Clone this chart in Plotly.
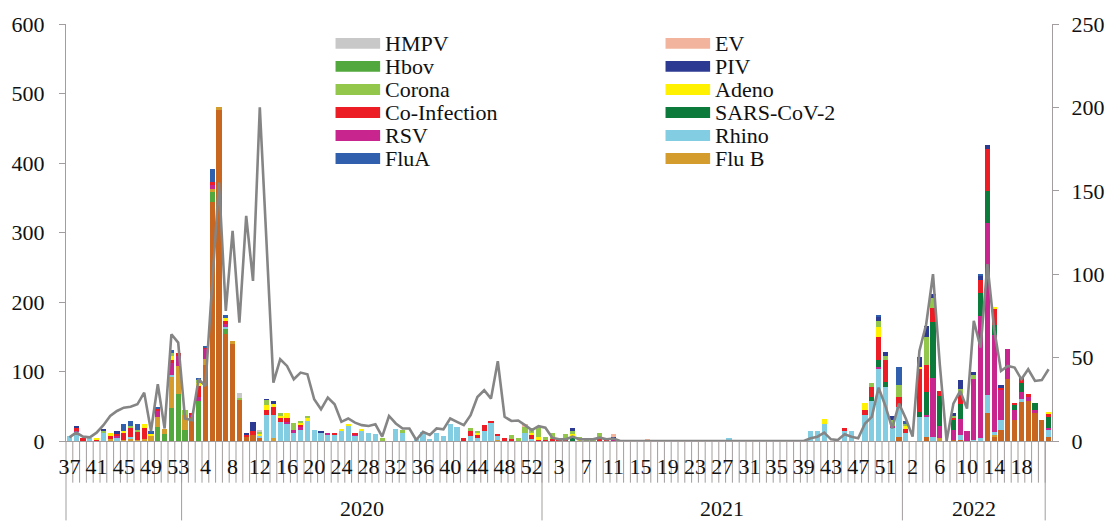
import plotly.graph_objects as go

# ---------------- data ----------------
# categories: 2019 wk37-53 (17), 2020 wk1-53 (53), 2021 wk1-53 (53), 2022 wk1-22 (22)
years = ["2019", "2020", "2021", "2022"]
year_sizes = [17, 53, 53, 22]
year_label_span = [17, 53, 53, 21]   # last category of 2022 is outside the drawn group
N = sum(year_sizes)
x_idx = list(range(N))

tick_pos = [0, 4, 8, 12, 16, 20, 24, 28, 32, 36, 40, 44, 48, 52, 56, 60, 64, 68,
            72, 76, 80, 84, 88, 92, 96, 100, 104, 108, 112, 116, 120, 124, 128, 132, 136, 140]
tick_labels = ["37", "41", "45", "49", "53", "4", "8", "12", "16", "20", "24", "28", "32",
               "36", "40", "44", "48", "52", "3", "7", "11", "15", "19", "23", "27", "31",
               "35", "39", "43", "47", "51", "2", "6", "10", "14", "18"]

Z = 0
other = ([0]*17 +
         [0, 34, 0, 110, 344, 476, 154, 139, 59, 6, 8, 4] + [0]*41 +
         [0]*52 + [6] +
         [0, 0, 0, 6, 0, 0, 0, 2, 1, 0, 0, 0, 40, 6, 16, 89, 30, 56, 57, 40, 30, 6])
hbov = ([0]*13 + [20, 10, 48, 68] +
        [16, 0, 58, 0, 14, 0, 7] + [0]*46 +
        [0]*53 + [0]*22)
flub = ([0, 0, 0, 0, 0, 0, 3, 0, 2, 3, 2, 3, 7, 15, 7, 45, 40] +
        [21, 0, 0, 8, 5, 5, 0, 5, 0, 0, 0, 0, 0, 4] + [0]*32 + [2] + [0]*6 +
        [0]*53 +
        [0, 0, 0, 0, 0, 4, 0, 0, 0, 0, 0, 0, 0, 3, 0, 0, 0, 0, 0, 0, 0, 0])
rhino = ([7, 13, 0, 5, 0, 12, 0, 5, 0, 3, 0, 0, 0, 0, 0, 2, 0] +
         [0, 0, 0, 0, 0, 0, 3, 0, 0, 0, 0, 3, 38, 33, 28, 25, 12, 16, 29, 16, 11, 10, 10, 15,
          23, 7, 15, 12, 10, 0, 0, 17, 12, 0, 2, 13, 3, 12, 7, 25, 20, 0, 7, 5, 15, 26, 5,
          0, 0, 0, 11, 3, 0] +
         [0]*27 + [4] + [0]*11 + [15, 15, 24, 0, 0, 15, 15, 0, 37, 58, 104, 77, 20, 43] +
         [11, 0, 35, 29, 6, 0, 0, 0, 8, 0, 1, 4, 26, 4, 14, 0, 0, 5, 0, 0, 0, 10])
rsv = ([0, 2, 0, 0, 0, 0, 0, 3, 0, 0, 0, 0, 0, 9, 0, 17, 14] +
       [0, 3, 6, 14, 6, 0, 4, 0, 0, 0, 0, 0, 0, 0, 0, 3, 4, 4, 0, 0, 0, 2, 0, 0, 0, 3] + [0]*27 +
       [0]*10 + [3] + [0]*38 + [2, 0, 2, 0] +
       [0, 0, 0, 3, 84, 18, 0, 14, 22, 14, 88, 176, 248, 140, 43, 44, 15, 10, 7, 5, 0, 2])
sars = ([0]*17 + [0]*53 +
        [0, 0, 0, 0, 4] + [0]*43 + [6, 10, 8, 0, 0] +
        [0, 0, 7, 33, 81, 43, 0, 14, 22, 0, 0, 33, 46, 14, 0, 0, 7, 12, 0, 10, 0, 17])
coinf = ([0, 3, 5, 0, 2, 0, 4, 2, 10, 12, 12, 16, 0, 2, 0, 5, 5] +
         [0, 3, 15, 3, 4, 0, 5, 0, 0, 2, 6, 0, 7, 12, 5, 5, 0, 3, 0, 0, 0, 0, 2, 0, 0, 2,
          0, 0, 0, 0, 0, 0, 0, 0, 0, 0, 0, 0, 0, 0, 0, 4, 8, 4, 8, 2, 3, 5, 3, 0, 0, 5, 2] +
         [2, 3, 2, 3, 0, 0, 0, 0, 3, 2] + [0]*34 + [3, 0, 0, 8, 13, 34, 32, 0, 15] +
         [6, 0, 62, 38, 21, 7, 0, 4, 15, 0, 0, 19, 60, 24, 3, 0, 2, 8, 3, 0, 0, 5])
adeno = ([0, 0, 0, 0, 3, 0, 4, 0, 2, 0, 0, 5, 3, 0, 0, 6, 0] +
         [0, 0, 5, 0, 0, 0, 4, 0, 0, 0, 0, 3, 7, 4, 3, 7, 0, 4, 5, 0, 0, 0, 0, 1, 2, 0, 2] +
         [0]*16 + [2] + [0]*7 + [3, 4] +
         [0, 0, 0, 0, 6, 3] + [0]*35 + [7] + [0]*5 + [10, 0, 14, 0, 0, 0] +
         [5, 0, 3, 0, 0, 0, 0, 0, 0, 0, 0, 0, 0, 2, 0, 0, 0, 0, 0, 0, 0, 2])
corona = ([0, 0, 0, 0, 0, 2, 0, 0, 0, 4, 2, 0, 0, 0, 0, 3, 0] +
          [8, 0, 4, 0, 0, 0, 0, 0, 3, 0, 0, 3, 7, 0, 4, 0, 10, 2, 2, 0, 0, 0, 0, 0, 0, 0,
           0, 0, 0, 5, 0, 0, 4, 0, 0, 0, 0, 0, 0, 0, 0, 0, 3, 3, 0, 0, 0, 0, 6, 5, 9, 8, 14] +
          [4, 8, 0, 7, 5, 3, 1, 4, 9] + [0]*39 + [6, 8, 6, 8, 17] +
          [3, 0, 0, 40, 14, 0, 0, 2, 7, 0, 6, 0, 0, 0, 0, 0, 0, 0, 0, 0, 0, 0])
piv = ([0, 3, 0, 0, 0, 3, 0, 5, 0, 0, 0, 0, 0, 0, 0, 0, 0] +
       [0, 0, 0, 0, 0, 0, 0, 0, 0, 4, 14, 0, 1, 5, 0, 0, 0, 0, 0, 0, 3] + [0]*32 +
       [0, 0, 0, 0, 4, 0, 0, 0, 0, 0, 3] + [0]*38 + [6, 5, 6, 0] +
       [0, 0, 14, 17, 5, 0, 0, 4, 13, 0, 5, 5, 6, 0, 4, 0, 0, 0, 0, 0, 0, 0])
flua = ([0, 0, 0, 0, 0, 0, 0, 0, 11, 7, 9, 0, 4, 3, 0, 5, 0] +
        [0, 0, 3, 2, 19, 0, 4] + [0]*46 +
        [0]*49 + [4, 0, 0, 25] +
        [4, 0, 0, 0, 0, 0, 0, 0, 0, 0, 0, 3, 0, 0, 0, 0, 0, 0, 0, 0, 0, 0])
hmpv = ([0]*17 + [0, 0, 0, 0, 0, 0, 0, 0, 7, 0, 0, 3] + [0]*41 + [0]*53 + [0]*22)
ev = ([0]*17 + [0]*50 + [4, 0, 0] + [0]*10 + [4, 0, 0, 0, 0, 2] + [0]*37 + [0]*22)

# right-axis line
line_vals = ([2.2, 5, 2.6, 2.2, 5, 9.5, 15, 18, 20, 20.5, 22, 29, 6, 34, 7.5, 64, 59] +
             [13.5, 12.5, 37, 33, 94, 155, 78, 126, 71, 135, 96, 200, 118, 35, 49, 45, 37, 41,
              40, 25, 19, 26, 22, 11.5, 13.5, 11, 9.5, 9, 10, 2.6, 15, 10.5, 7.5, 7.5, 0.6, 5.5,
              3.6, 7.5, 7, 13.5, 11.5, 9.5, 15.5, 26.4, 30.4, 25.4, 47.8, 14.5, 12, 12.3, 9.5,
              6.5, 8.9] +
             [8, 2, 1, 1, 2.6, 1, 1, 1, 2, 1, 1.5] + [0]*28 +
             [1.6, 2.6, 5, 1, 0.6, 4, 2.5, 1.6, 10.5, 14.5, 32, 21, 7.5, 22.4] +
             [13.5, 2.6, 54, 70, 100, 46, 0, 22.4, 30, 19.4, 72, 56, 106, 67, 42, 45, 44, 37,
              43, 36, 36.5, 43])

# stack order bottom -> top: (name, values, colour)
stack = [
    ("Influenza", other, "#C8651E"),
    ("Hbov", hbov, "#52A83C"),
    ("Flu B", flub, "#D49C2C"),
    ("Rhino", rhino, "#82CDE2"),
    ("RSV", rsv, "#C8258E"),
    ("SARS-CoV-2", sars, "#0C7A3B"),
    ("Co-Infection", coinf, "#EC1D25"),
    ("Adeno", adeno, "#FFF100"),
    ("Corona", corona, "#93C74B"),
    ("PIV", piv, "#2C3A92"),
    ("FluA", flua, "#2F5FAD"),
    ("HMPV", hmpv, "#C8C8C8"),
    ("EV", ev, "#F2B49C"),
]
for nm, vals, _ in stack:
    if len(vals) != N:
        raise ValueError(f"{nm} has {len(vals)} values")
if len(line_vals) != N:
    raise ValueError(f"line has {len(line_vals)} values")

legend_left = ["HMPV", "Hbov", "Corona", "Co-Infection", "RSV", "FluA"]
legend_right = ["EV", "PIV", "Adeno", "SARS-CoV-2", "Rhino", "Flu B"]

# ---------------- figure ----------------
FONT = "Liberation Serif, Times New Roman, serif"
AX = "#a39d9d"
W, H = 1116, 521
ML, MR, MT, MB = 63, 58, 21, 80
PW, PH = W - ML - MR, H - MT - MB

fig = go.Figure()
colors = {nm: c for nm, _, c in stack}
for nm, vals, c in stack:
    fig.add_trace(go.Bar(x=x_idx, y=vals, name=nm, marker=dict(color=c, line=dict(width=0)),
                         showlegend=False, yaxis="y"))
fig.add_trace(go.Scatter(x=x_idx, y=line_vals, mode="lines", yaxis="y2", showlegend=False,
                         line=dict(color="#858585", width=2.6), name="Total"))

def px_to_paper_x(px):
    return (px - ML) / PW

def px_to_paper_y(py):
    return (H - MB - py) / PH

shapes = []
# category separators below the axis
for b in range(1, N):
    xp = b / N
    shapes.append(dict(type="line", xref="paper", yref="paper", x0=xp, x1=xp,
                       y0=0, y1=px_to_paper_y(483), line=dict(color=AX, width=1), layer="below"))
# group (year) separators
bounds = [0]
for s in year_label_span:
    bounds.append(bounds[-1] + s)
for b in bounds:
    xp = b / N
    shapes.append(dict(type="line", xref="paper", yref="paper", x0=xp, x1=xp,
                       y0=0, y1=px_to_paper_y(H), line=dict(color=AX, width=1), layer="below"))

annotations = []
for k, yr in enumerate(years):
    if k == 0:
        continue
    c = (bounds[k] + bounds[k + 1]) / 2 / N
    annotations.append(dict(x=c, y=px_to_paper_y(509), xref="paper", yref="paper", text=yr,
                            showarrow=False, xanchor="center", yanchor="middle",
                            font=dict(family=FONT, size=22, color="#111")))

# legend (two columns)
row0, step, sw_w, sw_h = 40.5, 23.2, 45, 11
for col_x, names in ((335, legend_left), (668, legend_right)):
    for r, nm in enumerate(names):
        yc = row0 + r * step
        shapes.append(dict(type="rect", xref="paper", yref="paper",
                           x0=px_to_paper_x(col_x), x1=px_to_paper_x(col_x + sw_w),
                           y0=px_to_paper_y(yc + sw_h / 2), y1=px_to_paper_y(yc - sw_h / 2),
                           fillcolor=colors[nm], line=dict(width=0), layer="above"))
        annotations.append(dict(x=px_to_paper_x(col_x + sw_w + 3), y=px_to_paper_y(yc),
                                xref="paper", yref="paper", text=nm, showarrow=False,
                                xanchor="left", yanchor="middle",
                                font=dict(family=FONT, size=22, color="#111")))

fig.update_layout(
    width=W, height=H,
    margin=dict(l=ML, r=MR, t=MT, b=MB, pad=0),
    barmode="stack", bargap=0.26,
    plot_bgcolor="white", paper_bgcolor="white",
    font=dict(family=FONT, size=22, color="#111"),
    showlegend=False,
    xaxis=dict(range=[-0.5, N - 0.5], tickmode="array", tickvals=tick_pos, ticktext=tick_labels,
               showgrid=False, zeroline=False, showline=True, linecolor=AX, linewidth=1,
               ticks="", ticklabelstandoff=6, tickangle=0,
               tickfont=dict(family=FONT, size=22, color="#111")),
    yaxis=dict(range=[0, 600], dtick=100, showgrid=False, zeroline=False, showline=True,
               linecolor=AX, linewidth=1, ticks="outside", ticklen=6, tickcolor=AX,
               ticklabelstandoff=10, tickfont=dict(family=FONT, size=22, color="#111")),
    yaxis2=dict(range=[0, 250], dtick=50, overlaying="y", side="right", showgrid=False,
                zeroline=False, showline=True, linecolor=AX, linewidth=1, ticks="outside",
                ticklen=6, tickcolor=AX, ticklabelstandoff=8,
                tickfont=dict(family=FONT, size=22, color="#111")),
    shapes=shapes, annotations=annotations,
)

fig.write_html("out.html")
